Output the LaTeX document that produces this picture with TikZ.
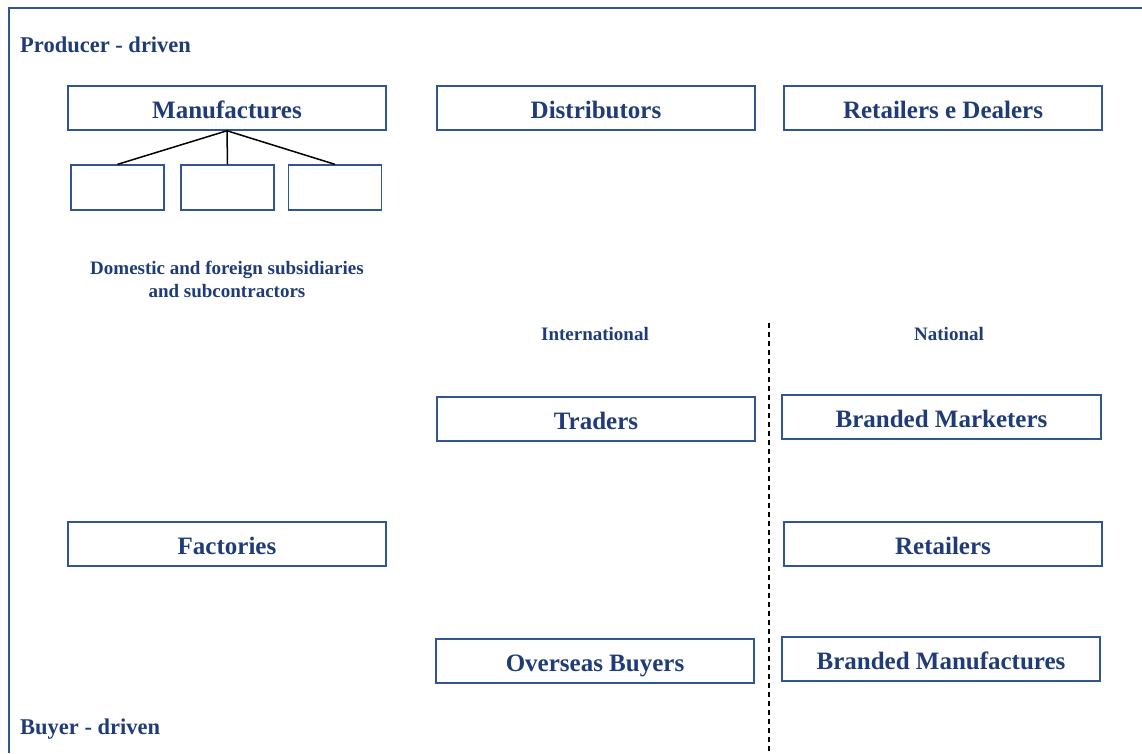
\documentclass[tikz,border=0pt]{standalone}
\usepackage{fontspec}
\setmainfont{Liberation Serif}
\definecolor{txtblue}{HTML}{1F3C78}
\definecolor{boxblue}{HTML}{2F5597}
\tikzset{
  box/.style={draw=boxblue, line width=1.5pt, fill=white, minimum width=318pt, minimum height=44pt, inner sep=0pt, text height=20.6pt, text depth=0pt, text=txtblue, font=\fontsize{25}{30}\selectfont\bfseries},
  smallbox/.style={draw=boxblue, line width=1.3pt, fill=white, minimum width=93pt, minimum height=45pt, inner sep=0pt},
  lbl/.style={text=txtblue, inner sep=0pt, font=\fontsize{19}{23}\selectfont\bfseries, align=center},
  biglbl/.style={text=txtblue, inner sep=0pt, text height=16pt, text depth=0pt, font=\fontsize{22.5}{27}\selectfont\bfseries},
  conn/.style={draw=black, line width=1.5pt},
  frameline/.style={draw=boxblue, line width=1.5pt}
}
\begin{document}
\begin{tikzpicture}[x=1pt,y=-1pt]
\useasboundingbox (0,0) rectangle (1142,753);
\draw[frameline] (1142,8) -- (9,8) -- (9,753);
\node[biglbl, anchor=west] (prod) at (20,44) {Producer - driven};
\node[biglbl, anchor=west] (buy) at (20,726) {Buyer - driven};

\node[box] (man) at (227,108) {Manufactures};
\node[box] (dist) at (596,108) {Distributors};
\node[box] (ret1) at (943,108) {Retailers e Dealers};

\node[smallbox] (s1) at (117.5,187.5) {};
\node[smallbox] (s2) at (227.5,187.5) {};
\node[smallbox] (s3) at (335,187.5) {};
\draw[conn] (man.south) -- (s1.north);
\draw[conn] (man.south) -- (s2.north);
\draw[conn] (man.south) -- (s3.north);

\node[lbl] (dom) at (227,279) {Domestic and foreign subsidiaries\\and subcontractors};
\node[lbl] (intl) at (595,334) {International};
\node[lbl] (natl) at (949,334) {National};

\coordinate (dtop) at (769,323);
\coordinate (dbot) at (769,753);
\draw[black, line width=1.3pt, dash pattern=on 5pt off 4pt] (dtop) -- (dbot);

\node[box] (trad) at (596,419) {Traders};
\node[box, minimum width=319pt] (bmark) at (941.5,417) {Branded Marketers};
\node[box] (fact) at (227,544) {Factories};
\node[box] (ret2) at (943,544) {Retailers};
\node[box] (over) at (595,661) {Overseas Buyers};
\node[box] (bman) at (941,659) {Branded Manufactures};
\end{tikzpicture}
\end{document}
